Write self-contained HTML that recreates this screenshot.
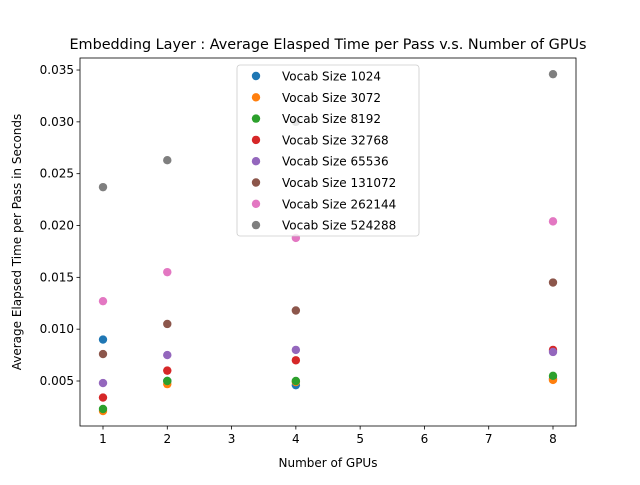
<!DOCTYPE html>
<html><head><meta charset="utf-8"><style>body{margin:0;background:#fff}svg{font-family:"DejaVu Sans","Liberation Sans",sans-serif}</style></head>
<body>
<svg id="c" width="640" height="480" xmlns="http://www.w3.org/2000/svg"></svg>
<script>
const gpus=[1,2,4,8];
const seriesNames=["Vocab Size 1024","Vocab Size 3072","Vocab Size 8192","Vocab Size 32768","Vocab Size 65536","Vocab Size 131072","Vocab Size 262144","Vocab Size 524288"];
const s1024=[0.0090,0.0050,0.0046,0.0052];
const s3072=[0.0021,0.0047,0.0049,0.0051];
const s8192=[0.0023,0.0050,0.0050,0.0055];
const s32768=[0.0034,0.0060,0.0070,0.0080];
const s65536=[0.0048,0.0075,0.0080,0.0078];
const s131072=[0.0076,0.0105,0.0118,0.0145];
const s262144=[0.0127,0.0155,0.0188,0.0204];
const s524288=[0.0237,0.0263,0.0300,0.0346];
const xTicks=[1,2,3,4,5,6,7,8];
const yTicks=[0.005,0.010,0.015,0.020,0.025,0.030,0.035];
const colors=["#1f77b4","#ff7f0e","#2ca02c","#d62728","#9467bd","#8c564b","#e377c2","#7f7f7f"];
const all=[s1024,s3072,s8192,s32768,s65536,s131072,s262144,s524288];
const L=80,R=576,T=58,B=426;
const X=v=>103+(v-1)*450/7;
const Y=v=>381-(v-0.005)/0.005*51.83;
const svg=document.getElementById('c');const NS="http://www.w3.org/2000/svg";
function mk(t,a,p){const e=document.createElementNS(NS,t);for(const k in a)e.setAttribute(k,a[k]);(p||svg).appendChild(e);return e;}
const title=mk('text',{x:328,y:49,'text-anchor':'middle','font-size':14.4});title.textContent="Embedding Layer : Average Elasped Time per Pass v.s. Number of GPUs";


const pts=mk('g',{});


all.forEach((s,i)=>s.forEach((v,j)=>{const c=mk('circle',{cx:X(gpus[j]),cy:Y(v),r:4.2,fill:colors[i]},pts);

}));
const fr=mk('rect',{x:L,y:T,width:R-L,height:B-T,fill:'none',stroke:'#000','stroke-width':0.8});


xTicks.forEach(t=>{mk('line',{x1:X(t),x2:X(t),y1:B,y2:B+3.5,stroke:'#000','stroke-width':0.8});
const e=mk('text',{x:X(t),y:B+17,'text-anchor':'middle','font-size':12});e.textContent=t;

});
yTicks.forEach(t=>{mk('line',{x1:L-3.5,x2:L,y1:Y(t),y2:Y(t),stroke:'#000','stroke-width':0.8});
const e=mk('text',{x:L-6,y:Y(t)+4,'text-anchor':'end','font-size':12});e.textContent=t.toFixed(3);

});
const xt=mk('text',{x:328,y:467,'text-anchor':'middle','font-size':12});xt.textContent="Number of GPUs";


const yt=mk('text',{x:21,y:242,'text-anchor':'middle','font-size':12,transform:'rotate(-90 21 242)'});yt.textContent="Average Elapsed Time per Pass in Seconds";


const lg=mk('g',{});


mk('rect',{x:237,y:65,width:182,height:171,rx:3,fill:'#fff','fill-opacity':0.8,stroke:'#ccc','stroke-width':0.8},lg);
seriesNames.forEach((n,i)=>{const yy=76+i*21.3;mk('circle',{cx:256,cy:yy,r:4.2,fill:colors[i]},lg);
const e=mk('text',{x:282,y:yy+4.5,'font-size':12},lg);e.textContent=n;

});
</script>
</body></html>
